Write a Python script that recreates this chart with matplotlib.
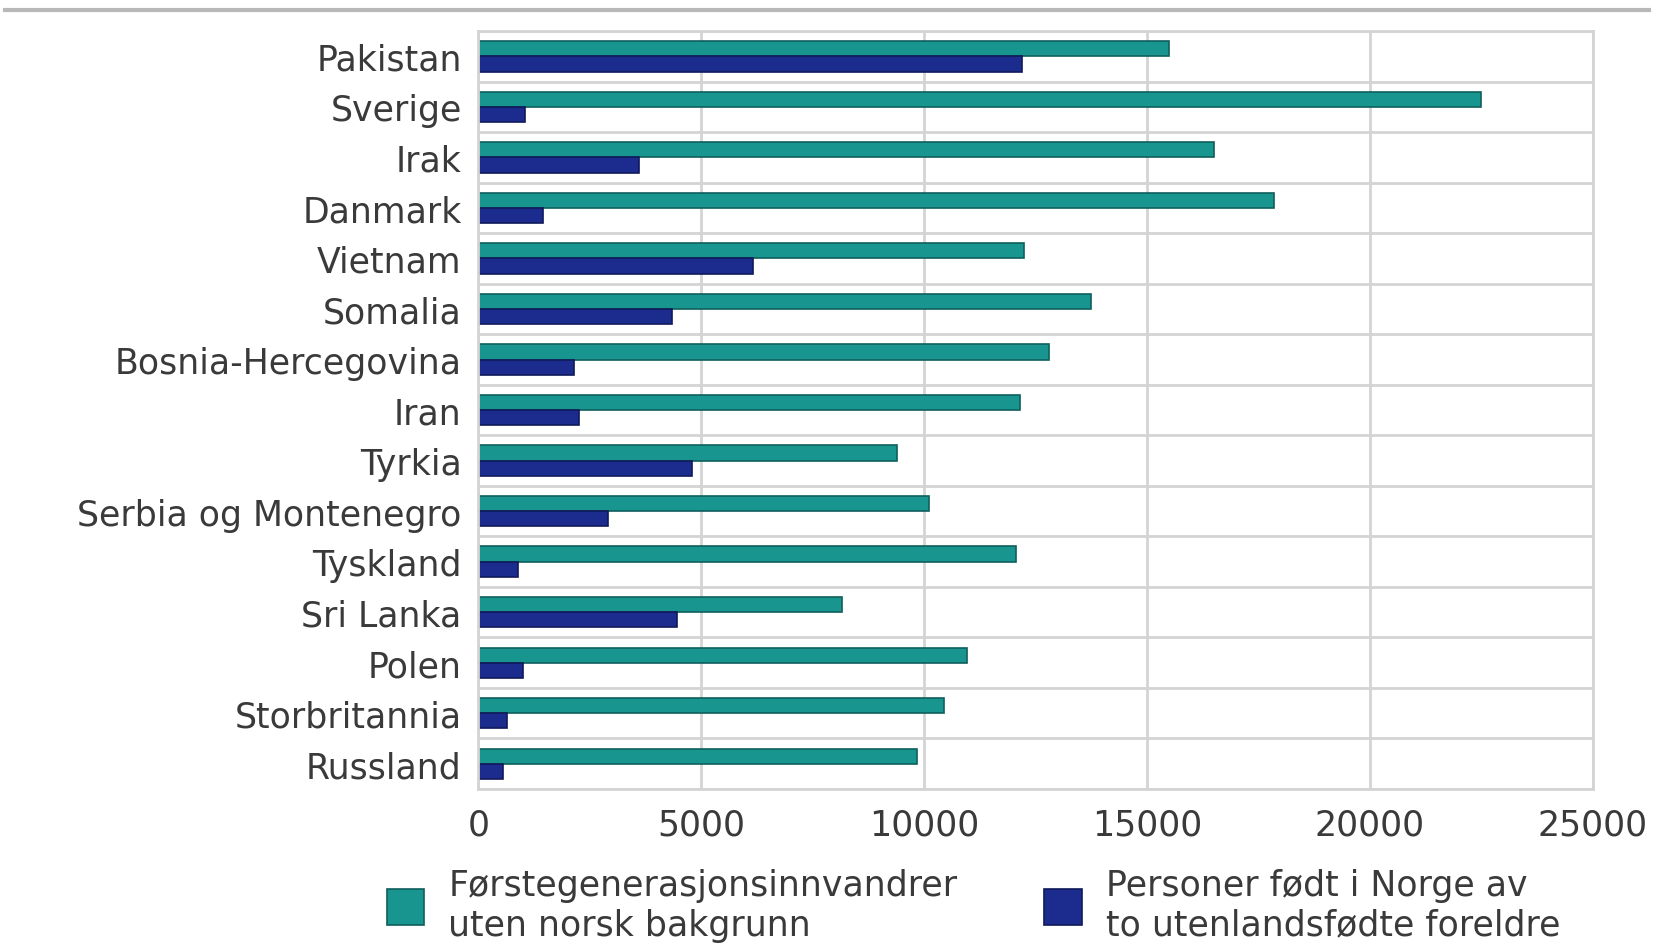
import numpy as np
import matplotlib
matplotlib.use("Agg")
import matplotlib.pyplot as plt
from matplotlib.lines import Line2D

plt.rcParams['font.family'] = ['DejaVu Sans']

countries = ["Pakistan", "Sverige", "Irak", "Danmark", "Vietnam", "Somalia",
             "Bosnia-Hercegovina", "Iran", "Tyrkia", "Serbia og Montenegro",
             "Tyskland", "Sri Lanka", "Polen", "Storbritannia", "Russland"]
first_gen = [15500, 22500, 16500, 17850, 12250, 13750, 12800, 12150, 9400,
             10100, 12050, 8150, 10950, 10450, 9850]
born_norway = [12200, 1050, 3600, 1450, 6150, 4350, 2150, 2250, 4800,
               2900, 900, 4450, 1000, 650, 550]
labels = ["Førstegenerasjonsinnvandrer\nuten norsk bakgrunn",
          "Personer født i Norge av\nto utenlandsfødte foreldre"]
xticks = [0, 5000, 10000, 15000, 20000, 25000]

teal = "#199590"
blue = "#1c2b8e"
txt = "#3a3a3a"
fs = 25

fig = plt.figure(figsize=(16.61, 9.45), dpi=100)
ax = fig.add_axes([0.288, 0.164, 0.671, 0.802])

y = np.arange(len(countries))
h = 0.3
b1 = ax.barh(y - h / 2, first_gen, height=h, color=teal, edgecolor="#0e5f5b", linewidth=1.2)
b2 = ax.barh(y + h / 2, born_norway, height=h, color=blue, edgecolor="#101a5a", linewidth=1.2)

ax.set_xlim(0, 25000)
ax.set_ylim(len(countries) - 0.5, -0.5)
ax.set_xticks(xticks)
ax.set_xticklabels([str(t) for t in xticks])
ax.set_yticks(y)
ax.set_yticklabels(countries)
ax.set_yticks(np.arange(len(countries) + 1) - 0.5, minor=True)
ax.tick_params(axis="both", which="both", length=0, labelsize=fs, colors=txt)
ax.tick_params(axis="y", pad=12)
ax.tick_params(axis="x", pad=13)
ax.grid(axis="x", which="major", color="#d4d4d4", linewidth=2)
ax.grid(axis="y", which="minor", color="#d4d4d4", linewidth=2)
ax.set_axisbelow(True)
for s in ax.spines.values():
    s.set_color("#d4d4d4")
    s.set_linewidth(2)

fig.add_artist(Line2D([0.003, 0.993], [0.988, 0.988], color="#b8b8b8", linewidth=3,
                      transform=fig.transFigure))

fig.legend([b1, b2], labels, loc="upper left", bbox_to_anchor=(0.233, 0.08),
           ncol=2, frameon=False, fontsize=fs, handlelength=1.07, handleheight=1.2,
           handletextpad=0.7, columnspacing=2.5, borderpad=0, borderaxespad=0,
           labelcolor=txt, labelspacing=0.3)

fig.savefig("out.png", dpi=100)
